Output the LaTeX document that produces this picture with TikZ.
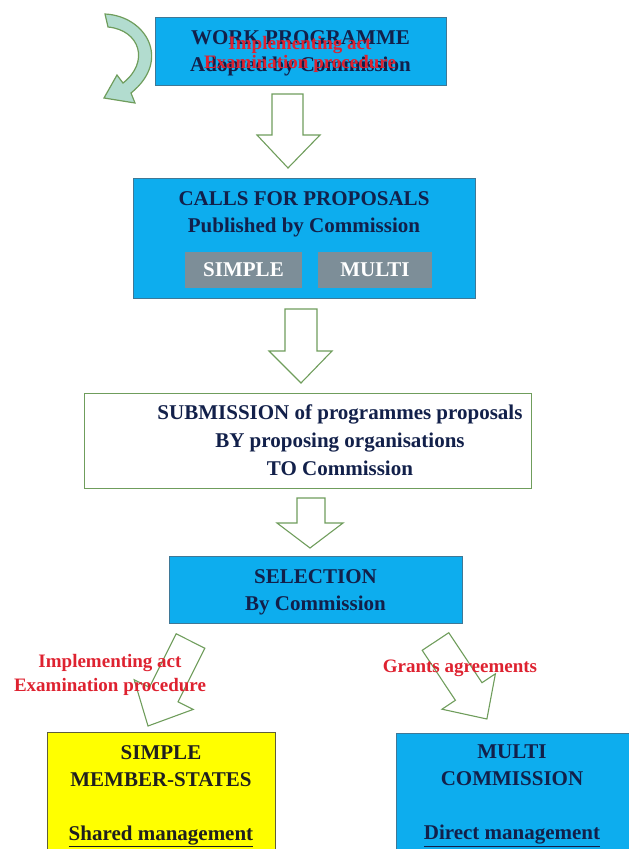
\documentclass[tikz,border=0pt]{standalone}
\usepackage{fontspec}
\setmainfont{Liberation Serif}
\usepackage{xcolor}
\definecolor{cyanbox}{HTML}{0DADEE}
\definecolor{cyanedge}{HTML}{3F7896}
\definecolor{navytxt}{HTML}{12204A}
\definecolor{redtxt}{HTML}{DE2230}
\definecolor{greyblk}{HTML}{7D8E98}
\definecolor{arrgreen}{HTML}{6F9D5C}
\definecolor{curvefill}{HTML}{B2DCCF}
\definecolor{yellowbox}{HTML}{FFFF00}
\definecolor{yellowedge}{HTML}{5E5E3A}
\tikzset{
  boxcyan/.style={draw=cyanedge, line width=1pt, fill=cyanbox, inner sep=0pt},
  boxwhite/.style={draw=arrgreen, line width=1pt, fill=white, inner sep=0pt},
  boxgrey/.style={fill=greyblk, inner sep=0pt, text=white, font=\fontsize{21}{27}\selectfont\bfseries},
  maintxt/.style={text=navytxt, align=center, inner sep=0pt, font=\fontsize{21}{27}\selectfont\bfseries},
  redlbl/.style={text=redtxt, align=center, inner sep=0pt, font=\fontsize{19}{24}\selectfont\bfseries},
  blockarrow/.style={draw=arrgreen, line width=1.1pt, line join=miter},
}
\begin{document}
\begin{tikzpicture}[x=1pt,y=-1pt]
\useasboundingbox (0,0) rectangle (629,849);
\clip (0,0) rectangle (629,849);

% curved arrow (top left)
\draw[draw=arrgreen, line width=1.2pt, fill=curvefill, line join=miter]
  (105,14) .. controls (146,16) and (172,60) .. (131,93)
  -- (135,103) -- (104,98) -- (117,75) -- (123,83)
  .. controls (150,62) and (140,30) .. (108,27) -- cycle;

% boxes
\node[boxcyan, minimum width=291pt, minimum height=68pt] (work) at (300.5,51) {};
\node[maintxt] (worktxt) at (300.5,53.5) {WORK PROGRAMME\\Adopted by Commission};
\node[redlbl, font=\fontsize{19}{19}\selectfont\bfseries] (workred) at (300,54) {Implementing act\\Examination procedure};

\node[boxcyan, minimum width=342pt, minimum height=120pt] (calls) at (304,238) {};
\node[maintxt] (callstxt) at (304,214) {CALLS FOR PROPOSALS\\Published by Commission};
\node[boxgrey, minimum width=117pt, minimum height=36pt] (csimple) at (243.5,270) {SIMPLE};
\node[boxgrey, minimum width=114pt, minimum height=36pt] (cmulti) at (375,270) {MULTI};

\node[boxwhite, minimum width=447pt, minimum height=95pt] (sub) at (307.5,440.5) {};
\node[maintxt, font=\fontsize{21}{28}\selectfont\bfseries] (subtxt) at (340,440) {SUBMISSION of programmes proposals\\BY proposing organisations\\TO Commission};

\node[boxcyan, minimum width=293pt, minimum height=67pt] (sel) at (315.5,589.5) {};
\node[maintxt] (seltxt) at (315.5,592) {SELECTION\\By Commission};

\node[draw=yellowedge, line width=1pt, fill=yellowbox, minimum width=228pt, minimum height=140pt, inner sep=0pt] (simple) at (161,802) {};
\node[maintxt, text=black!88, anchor=north] (simpletxt) at (161,745) {SIMPLE\\MEMBER-STATES\\[27pt]\underline{Shared management}};

\node[boxcyan, minimum width=250pt, minimum height=140pt] (multi) at (521,803) {};
\node[maintxt, anchor=north] (multitxt) at (512,745) {MULTI\\COMMISSION\\[27pt]\underline{Direct management}};

% straight down block arrows
\draw[blockarrow] (272,94) -- (303,94) -- (303,135) -- (320,135) -- (288,168) -- (257,135) -- (272,135) -- cycle;
\draw[blockarrow] (285,309) -- (317,309) -- (317,351) -- (332,351) -- (301,383) -- (269,351) -- (285,351) -- cycle;
\draw[blockarrow] (297,498) -- (325,498) -- (325,523) -- (343,523) -- (310,548) -- (277,523) -- (297,523) -- cycle;

% diagonal block arrows
\draw[blockarrow] (176.2,633.8) -- (204.8,648.2) -- (178.0,701.8) -- (193.2,709.4) -- (148,726) -- (134.2,679.8) -- (149.4,687.4) -- cycle;
\draw[blockarrow] (422.2,650.3) -- (448.8,632.7) -- (482.0,682.7) -- (495.4,673.8) -- (486.9,719) -- (442.0,709.2) -- (455.4,700.3) -- cycle;

% red labels
\node[redlbl] (implbl) at (110,675) {Implementing act\\Examination procedure};
\node[redlbl] (grantlbl) at (460,668) {Grants agreements};
\end{tikzpicture}
\end{document}
